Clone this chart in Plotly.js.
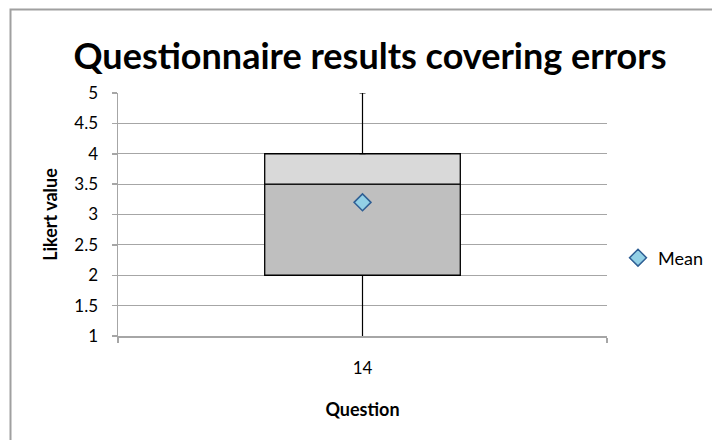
<!DOCTYPE html>
<html>
<head>
<meta charset="utf-8">
<script src="https://cdn.plot.ly/plotly-3.0.1.min.js"></script>
<style>html,body{margin:0;padding:0;background:#fff;}#chart{width:712px;height:440px;}</style>
</head>
<body>
<div id="chart"></div>
<script>
// Data
const categories = ['14'];
const minVals = [1];
const q1Vals = [2];
const medianVals = [3.5];
const q3Vals = [4];
const maxVals = [5];
const meanVals = [3.2];

const FONT = 'Lato, "Open Sans", sans-serif';

const lowerBox = {
  type: 'bar', x: categories, base: q1Vals,
  y: medianVals.map((m, i) => m - q1Vals[i]),
  width: 0.4,
  marker: {color: '#bfbfbf', line: {color: '#000000', width: 1.3}},
  showlegend: false, hoverinfo: 'skip'
};
const upperBox = {
  type: 'bar', x: categories, base: medianVals,
  y: q3Vals.map((q, i) => q - medianVals[i]),
  width: 0.4,
  marker: {color: '#d9d9d9', line: {color: '#000000', width: 1.3}},
  showlegend: false, hoverinfo: 'skip'
};
const lowerWhisker = {
  type: 'scatter', mode: 'markers', x: categories, y: q1Vals,
  marker: {size: 1, opacity: 0},
  error_y: {type: 'data', symmetric: false, array: [0],
    arrayminus: q1Vals.map((q, i) => q - minVals[i]),
    color: '#000000', thickness: 1.2, width: 0},
  showlegend: false, hoverinfo: 'skip'
};
const upperWhisker = {
  type: 'scatter', mode: 'markers', x: categories, y: q3Vals,
  marker: {size: 1, opacity: 0},
  error_y: {type: 'data', symmetric: false,
    array: maxVals.map((m, i) => m - q3Vals[i]), arrayminus: [0],
    color: '#000000', thickness: 1.2, width: 3},
  showlegend: false, hoverinfo: 'skip'
};
const mean = {
  type: 'scatter', mode: 'markers', name: 'Mean', x: categories, y: meanVals,
  marker: {symbol: 'diamond', size: 13, color: '#92d0e6', line: {color: '#2f5f94', width: 1.5}},
  showlegend: true
};

const pl = 118, pr = 607, pt = 93, pb = 336;
const pw = pr - pl, ph = pb - pt;
const px = v => (v - pl) / pw;
const py = v => (pb - v) / ph;

const layout = {
  width: 712, height: 440,
  margin: {l: pl, r: 712 - pr, t: pt, b: 440 - pb, pad: 0, autoexpand: false},
  paper_bgcolor: '#ffffff', plot_bgcolor: '#ffffff',
  barmode: 'overlay',
  font: {family: FONT, color: '#000000', size: 16},
  title: {text: 'Questionnaire results covering errors',
    font: {family: FONT, size: 36, weight: 'bold', color: '#000000'},
    xref: 'paper', x: px(370), xanchor: 'center',
    yref: 'container', y: 1 - 56 / 440, yanchor: 'middle'},
  xaxis: {
    type: 'category', range: [-0.5, 0.5],
    showline: true, linecolor: '#a6a6a6', linewidth: 1.5,
    ticks: 'outside', tickson: 'boundaries', ticklen: 5, tickcolor: '#a6a6a6', tickwidth: 1.5,
    showgrid: false, zeroline: false,
    tickfont: {family: FONT, size: 17, color: '#000000'},
    ticklabelstandoff: 16,
    title: {text: 'Question', font: {family: FONT, size: 18, weight: 'bold', color: '#000000'}, standoff: 26}
  },
  yaxis: {
    range: [1, 5], dtick: 0.5, tick0: 1,
    showline: true, linecolor: '#a6a6a6', linewidth: 1.5,
    ticks: 'outside', ticklen: 5, tickcolor: '#a6a6a6', tickwidth: 1.5,
    showgrid: true, gridcolor: '#a6a6a6', gridwidth: 1.2, zeroline: false,
    tickfont: {family: FONT, size: 17, color: '#000000'},
    ticklabelstandoff: 10,
    title: {text: 'Likert value', font: {family: FONT, size: 18, weight: 'bold', color: '#000000'}, standoff: 12}
  },
  legend: {x: px(618), xanchor: 'left', y: py(258), yanchor: 'middle',
    font: {family: FONT, size: 18, color: '#000000'}, bgcolor: 'rgba(0,0,0,0)',
    itemwidth: 30, tracegroupgap: 0},
  shapes: [{type: 'rect', xref: 'paper', yref: 'paper',
    x0: px(10.5), x1: px(730), y0: py(460), y1: py(9.5),
    line: {color: '#a0a0a0', width: 2}, fillcolor: 'rgba(0,0,0,0)', layer: 'below'}],
  showlegend: true
};

Plotly.newPlot('chart', [lowerBox, upperBox, lowerWhisker, upperWhisker, mean], layout,
  {displayModeBar: false, staticPlot: true});
</script>
</body>
</html>
